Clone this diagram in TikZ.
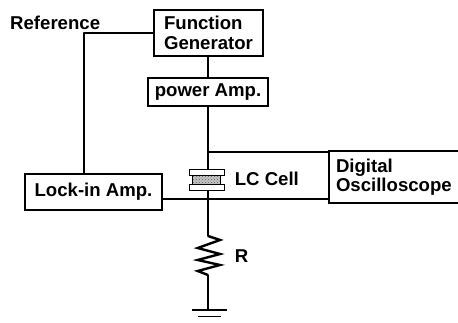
\documentclass[tikz,border=0pt]{standalone}
\usepackage{fontspec}
\setmainfont{Liberation Sans}
\usetikzlibrary{patterns}
\tikzset{
  wire/.style={line width=1.6pt,line cap=round,line join=round},
  unit/.style={draw,line width=1.7pt,inner sep=0pt,font=\fontsize{18.6}{19.5}\selectfont\bfseries,align=left},
  lab/.style={inner sep=0pt,font=\fontsize{18.6}{19.5}\selectfont\bfseries}
}
\begin{document}
\begin{tikzpicture}[x=1pt,y=-1pt]
\useasboundingbox (0,0) rectangle (458,322);
\clip (0,0) rectangle (458,322);
\fill[white] (0,0) rectangle (458,322);
% boxes
\node[unit,minimum width=109pt,minimum height=46pt] (fg) at (208.5,33) {Function\\Generator};
\node[unit,minimum width=120pt,minimum height=28pt] (pa) at (208,92) {power Amp.};
\node[unit,minimum width=137pt,minimum height=36pt] (li) at (93.5,192) {Lock-in Amp.};
\node[unit,minimum width=170pt,minimum height=52pt,text width=156pt] (os) at (414,177) {Digital\\Oscilloscope};
% labels
\node[lab,anchor=west] (ref) at (10,23) {Reference};
\node[unit,draw=none,anchor=west] (lc) at (234,179) {LC Cell};
\node[unit,draw=none,anchor=west] (rl) at (234,256) {R};
% junctions and free points
\coordinate (reftop) at (84,33);
\coordinate (ctop) at (208,169);
\coordinate (cbot) at (208,190);
\coordinate (jtop) at (208,152);
\coordinate (jbot) at (208,199);
\coordinate (rtop) at (208,236);
\coordinate (rbot) at (208,275);
\coordinate (gnd) at (208,310);
% connectors
\draw[wire] (fg.west |- reftop) -- (reftop) -- (reftop |- li.north);
\draw[wire] (fg.south -| pa.north) -- (pa.north);
\draw[wire] (pa.south) -- (ctop);
\draw[wire] (jtop) -- (jtop -| os.west);
\draw[wire,line width=2.3pt] (li.east |- jbot) -- (jbot);
\draw[wire] (jbot) -- (jbot -| os.west);
\draw[wire] (cbot) -- (rtop);
\draw[wire] (rbot) -- (gnd);
% LC cell
\fill[gray!45] (192,175) rectangle (220,184);
\fill[pattern=crosshatch dots,pattern color=gray!70!black] (192,175) rectangle (220,184);
\draw[line width=0.8pt] (192,175) rectangle (220,184);
\draw[line width=0.9pt,fill=white] (189,169.5) rectangle (224,175);
\draw[line width=0.9pt,fill=white] (189,184.5) rectangle (224,190);
% resistor
\draw[line width=2.4pt,line join=miter] (rtop) -- (220,240) -- (197.7,248) -- (220,254) -- (197.7,260) -- (220,265) -- (197.7,271) -- (rbot);
% ground
\draw[line width=1.3pt] (192,310) -- (227,310);
\draw[line width=1.6pt] (198,316.5) -- (221,316.5);
\end{tikzpicture}
\end{document}
